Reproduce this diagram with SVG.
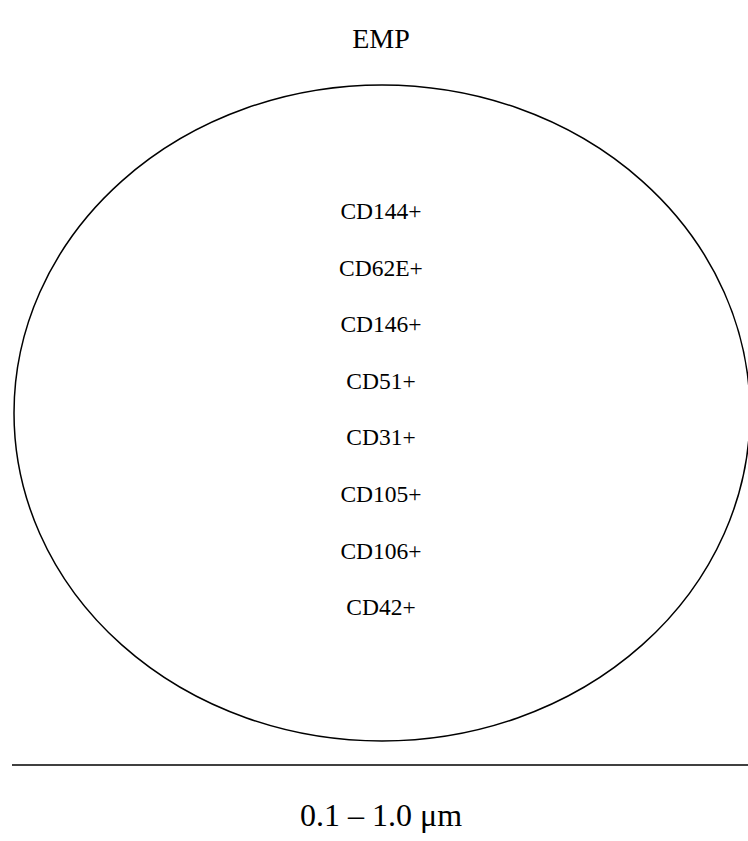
<svg xmlns="http://www.w3.org/2000/svg" width="748" height="841" viewBox="0 0 748 841">
<style>
text{font-family:"Liberation Serif","Times New Roman",serif;fill:#000;text-anchor:middle}
.t{font-size:28px}
.m{font-size:23.5px}
.b{font-size:32px}
.s{fill:none;stroke:#000;stroke-width:1.5}
</style>
<rect width="748" height="841" fill="#fff"/>
<g id="title"><text class="t" x="381" y="48">EMP</text></g>
<g id="vesicle">
<ellipse class="s" cx="382" cy="413" rx="368" ry="328"/>
<text class="m" x="381" y="219">CD144+</text>
<text class="m" x="381" y="275.6">CD62E+</text>
<text class="m" x="381" y="332.2">CD146+</text>
<text class="m" x="381" y="388.8">CD51+</text>
<text class="m" x="381" y="445.4">CD31+</text>
<text class="m" x="381" y="502">CD105+</text>
<text class="m" x="381" y="558.6">CD106+</text>
<text class="m" x="381" y="615.2">CD42+</text>
</g>
<g id="scale">
<line class="s" x1="12" y1="765" x2="748" y2="765"/>
<text class="b" x="381" y="826">0.1 – 1.0 μm</text>
</g>
</svg>
